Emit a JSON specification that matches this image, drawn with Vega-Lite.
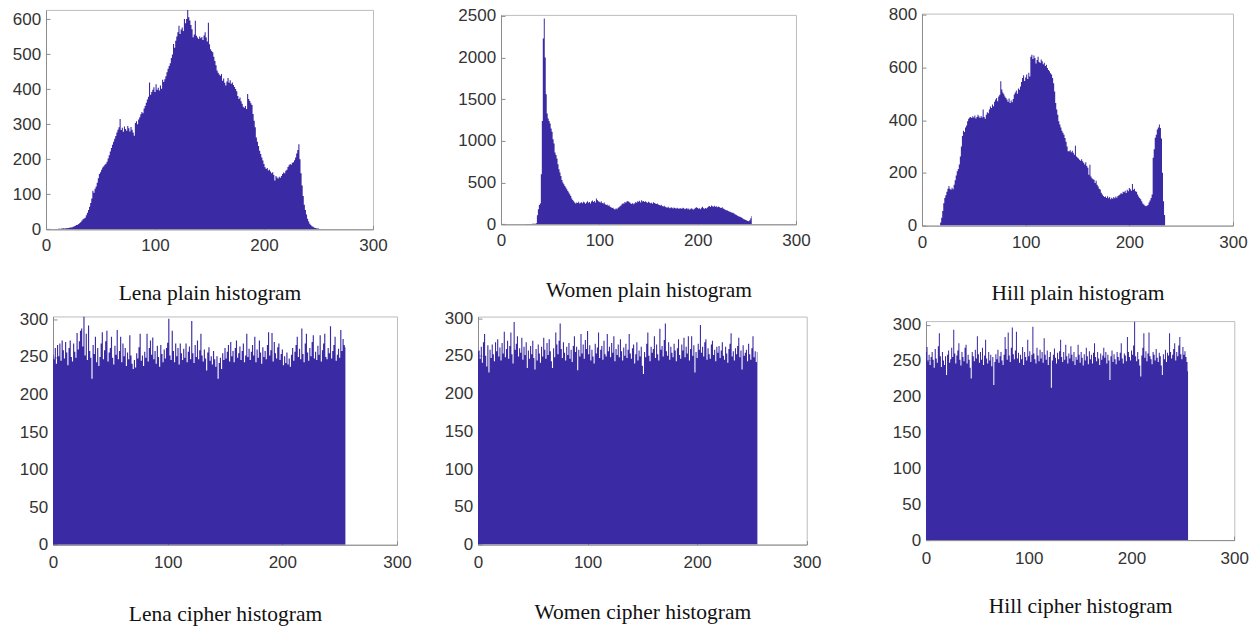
{
"$schema": "https://vega.github.io/schema/vega-lite/v6.json",
"padding": {"left": 6, "top": 4.6, "right": 0, "bottom": 0},
"background": "white",
"config": {
 "view": {"stroke": "#bdbdbd", "strokeWidth": 1},
 "axis": {"labelFont": "Liberation Sans", "labelFontSize": 17, "labelColor": "#333333", "labelFlush": false, "domainColor": "#8c8c8c", "tickColor": "#8c8c8c", "ticks": true, "tickSize": -4, "grid": false, "titleFont": "Liberation Serif", "titleFontSize": 21.5, "titleFontWeight": "normal", "titleColor": "#111111"},
 "axisX": {"labelPadding": 12.5},
 "axisY": {"labelPadding": 9.4, "title": null, "format": "d"}
},
"datasets": {
"lena_p": [{"b":0,"n":0},{"b":1,"n":0},{"b":2,"n":0},{"b":3,"n":0},{"b":4,"n":0},{"b":5,"n":0},{"b":6,"n":0},{"b":7,"n":0},{"b":8,"n":0},{"b":9,"n":1},
{"b":10,"n":1},{"b":11,"n":1},{"b":12,"n":2},{"b":13,"n":1},{"b":14,"n":2},{"b":15,"n":2},{"b":16,"n":3},{"b":17,"n":2},{"b":18,"n":3},{"b":19,"n":3},
{"b":20,"n":4},{"b":21,"n":4},{"b":22,"n":5},{"b":23,"n":5},{"b":24,"n":6},{"b":25,"n":7},{"b":26,"n":9},{"b":27,"n":10},{"b":28,"n":12},{"b":29,"n":13},
{"b":30,"n":15},{"b":31,"n":18},{"b":32,"n":21},{"b":33,"n":25},{"b":34,"n":29},{"b":35,"n":31},{"b":36,"n":33},{"b":37,"n":40},{"b":38,"n":47},{"b":39,"n":55},
{"b":40,"n":64},{"b":41,"n":75},{"b":42,"n":88},{"b":43,"n":110},{"b":44,"n":104},{"b":45,"n":116},{"b":46,"n":122},{"b":47,"n":133},{"b":48,"n":146},{"b":49,"n":158},
{"b":50,"n":163},{"b":51,"n":170},{"b":52,"n":176},{"b":53,"n":180},{"b":54,"n":184},{"b":55,"n":187},{"b":56,"n":193},{"b":57,"n":202},{"b":58,"n":211},{"b":59,"n":222},
{"b":60,"n":232},{"b":61,"n":241},{"b":62,"n":250},{"b":63,"n":258},{"b":64,"n":266},{"b":65,"n":276},{"b":66,"n":284},{"b":67,"n":291},{"b":68,"n":315},{"b":69,"n":283},
{"b":70,"n":290},{"b":71,"n":278},{"b":72,"n":293},{"b":73,"n":286},{"b":74,"n":281},{"b":75,"n":295},{"b":76,"n":288},{"b":77,"n":279},{"b":78,"n":292},{"b":79,"n":284},
{"b":80,"n":276},{"b":81,"n":267},{"b":82,"n":303},{"b":83,"n":308},{"b":84,"n":300},{"b":85,"n":313},{"b":86,"n":320},{"b":87,"n":328},{"b":88,"n":335},{"b":89,"n":331},
{"b":90,"n":345},{"b":91,"n":352},{"b":92,"n":361},{"b":93,"n":370},{"b":94,"n":378},{"b":95,"n":419},{"b":96,"n":384},{"b":97,"n":392},{"b":98,"n":398},{"b":99,"n":405},
{"b":100,"n":392},{"b":101,"n":414},{"b":102,"n":398},{"b":103,"n":404},{"b":104,"n":396},{"b":105,"n":410},{"b":106,"n":401},{"b":107,"n":427},{"b":108,"n":420},{"b":109,"n":428},
{"b":110,"n":437},{"b":111,"n":448},{"b":112,"n":458},{"b":113,"n":466},{"b":114,"n":474},{"b":115,"n":489},{"b":116,"n":499},{"b":117,"n":529},{"b":118,"n":518},{"b":119,"n":538},
{"b":120,"n":550},{"b":121,"n":562},{"b":122,"n":581},{"b":123,"n":557},{"b":124,"n":570},{"b":125,"n":576},{"b":126,"n":566},{"b":127,"n":600},{"b":128,"n":588},{"b":129,"n":600},
{"b":130,"n":626},{"b":131,"n":605},{"b":132,"n":596},{"b":133,"n":583},{"b":134,"n":571},{"b":135,"n":548},{"b":136,"n":556},{"b":137,"n":595},{"b":138,"n":552},{"b":139,"n":547},
{"b":140,"n":543},{"b":141,"n":550},{"b":142,"n":545},{"b":143,"n":549},{"b":144,"n":540},{"b":145,"n":553},{"b":146,"n":562},{"b":147,"n":547},{"b":148,"n":536},{"b":149,"n":589},
{"b":150,"n":528},{"b":151,"n":514},{"b":152,"n":509},{"b":153,"n":505},{"b":154,"n":492},{"b":155,"n":480},{"b":156,"n":468},{"b":157,"n":453},{"b":158,"n":447},{"b":159,"n":442},
{"b":160,"n":438},{"b":161,"n":443},{"b":162,"n":424},{"b":163,"n":430},{"b":164,"n":418},{"b":165,"n":410},{"b":166,"n":422},{"b":167,"n":432},{"b":168,"n":418},{"b":169,"n":425},
{"b":170,"n":415},{"b":171,"n":419},{"b":172,"n":412},{"b":173,"n":406},{"b":174,"n":400},{"b":175,"n":394},{"b":176,"n":380},{"b":177,"n":372},{"b":178,"n":376},{"b":179,"n":365},
{"b":180,"n":358},{"b":181,"n":350},{"b":182,"n":347},{"b":183,"n":352},{"b":184,"n":343},{"b":185,"n":386},{"b":186,"n":372},{"b":187,"n":366},{"b":188,"n":360},{"b":189,"n":355},
{"b":190,"n":329},{"b":191,"n":310},{"b":192,"n":291},{"b":193,"n":262},{"b":194,"n":250},{"b":195,"n":238},{"b":196,"n":224},{"b":197,"n":215},{"b":198,"n":205},{"b":199,"n":196},
{"b":200,"n":186},{"b":201,"n":177},{"b":202,"n":172},{"b":203,"n":175},{"b":204,"n":168},{"b":205,"n":170},{"b":206,"n":165},{"b":207,"n":160},{"b":208,"n":163},{"b":209,"n":155},
{"b":210,"n":139},{"b":211,"n":152},{"b":212,"n":148},{"b":213,"n":145},{"b":214,"n":150},{"b":215,"n":147},{"b":216,"n":152},{"b":217,"n":158},{"b":218,"n":162},{"b":219,"n":160},
{"b":220,"n":167},{"b":221,"n":170},{"b":222,"n":178},{"b":223,"n":183},{"b":224,"n":186},{"b":225,"n":184},{"b":226,"n":190},{"b":227,"n":191},{"b":228,"n":197},{"b":229,"n":205},
{"b":230,"n":216},{"b":231,"n":226},{"b":232,"n":243},{"b":233,"n":200},{"b":234,"n":160},{"b":235,"n":125},{"b":236,"n":95},{"b":237,"n":70},{"b":238,"n":55},{"b":239,"n":42},
{"b":240,"n":30},{"b":241,"n":22},{"b":242,"n":16},{"b":243,"n":12},{"b":244,"n":9},{"b":245,"n":7},{"b":246,"n":5},{"b":247,"n":4},{"b":248,"n":3},{"b":249,"n":2},
{"b":250,"n":2},{"b":251,"n":1},{"b":252,"n":1},{"b":253,"n":0},{"b":254,"n":0},{"b":255,"n":0}],
"women_p": [{"b":0,"n":0},{"b":1,"n":0},{"b":2,"n":0},{"b":3,"n":0},{"b":4,"n":0},{"b":5,"n":0},{"b":6,"n":0},{"b":7,"n":0},{"b":8,"n":0},{"b":9,"n":0},
{"b":10,"n":0},{"b":11,"n":0},{"b":12,"n":0},{"b":13,"n":0},{"b":14,"n":0},{"b":15,"n":0},{"b":16,"n":0},{"b":17,"n":0},{"b":18,"n":0},{"b":19,"n":0},
{"b":20,"n":0},{"b":21,"n":0},{"b":22,"n":0},{"b":23,"n":0},{"b":24,"n":0},{"b":25,"n":0},{"b":26,"n":4},{"b":27,"n":4},{"b":28,"n":5},{"b":29,"n":5},
{"b":30,"n":5},{"b":31,"n":5},{"b":32,"n":6},{"b":33,"n":6},{"b":34,"n":6},{"b":35,"n":8},{"b":36,"n":12},{"b":37,"n":110},{"b":38,"n":180},{"b":39,"n":230},
{"b":40,"n":250},{"b":41,"n":600},{"b":42,"n":1240},{"b":43,"n":2230},{"b":44,"n":2470},{"b":45,"n":2000},{"b":46,"n":1560},{"b":47,"n":1330},{"b":48,"n":1270},{"b":49,"n":1240},
{"b":50,"n":1210},{"b":51,"n":1150},{"b":52,"n":1110},{"b":53,"n":1020},{"b":54,"n":970},{"b":55,"n":860},{"b":56,"n":830},{"b":57,"n":790},{"b":58,"n":720},{"b":59,"n":660},
{"b":60,"n":620},{"b":61,"n":580},{"b":62,"n":530},{"b":63,"n":500},{"b":64,"n":480},{"b":65,"n":460},{"b":66,"n":440},{"b":67,"n":420},{"b":68,"n":400},{"b":69,"n":380},
{"b":70,"n":360},{"b":71,"n":340},{"b":72,"n":310},{"b":73,"n":290},{"b":74,"n":275},{"b":75,"n":260},{"b":76,"n":250},{"b":77,"n":262},{"b":78,"n":255},{"b":79,"n":270},
{"b":80,"n":248},{"b":81,"n":258},{"b":82,"n":265},{"b":83,"n":252},{"b":84,"n":270},{"b":85,"n":260},{"b":86,"n":245},{"b":87,"n":262},{"b":88,"n":275},{"b":89,"n":258},
{"b":90,"n":266},{"b":91,"n":250},{"b":92,"n":272},{"b":93,"n":285},{"b":94,"n":268},{"b":95,"n":278},{"b":96,"n":262},{"b":97,"n":308},{"b":98,"n":290},{"b":99,"n":276},
{"b":100,"n":270},{"b":101,"n":262},{"b":102,"n":275},{"b":103,"n":255},{"b":104,"n":248},{"b":105,"n":260},{"b":106,"n":240},{"b":107,"n":232},{"b":108,"n":236},{"b":109,"n":222},
{"b":110,"n":228},{"b":111,"n":210},{"b":112,"n":205},{"b":113,"n":196},{"b":114,"n":200},{"b":115,"n":185},{"b":116,"n":178},{"b":117,"n":192},{"b":118,"n":182},{"b":119,"n":198},
{"b":120,"n":205},{"b":121,"n":218},{"b":122,"n":226},{"b":123,"n":240},{"b":124,"n":252},{"b":125,"n":246},{"b":126,"n":268},{"b":127,"n":258},{"b":128,"n":272},{"b":129,"n":280},
{"b":130,"n":270},{"b":131,"n":262},{"b":132,"n":250},{"b":133,"n":244},{"b":134,"n":256},{"b":135,"n":240},{"b":136,"n":252},{"b":137,"n":266},{"b":138,"n":258},{"b":139,"n":276},
{"b":140,"n":270},{"b":141,"n":282},{"b":142,"n":262},{"b":143,"n":288},{"b":144,"n":274},{"b":145,"n":280},{"b":146,"n":268},{"b":147,"n":276},{"b":148,"n":264},{"b":149,"n":258},
{"b":150,"n":270},{"b":151,"n":262},{"b":152,"n":252},{"b":153,"n":258},{"b":154,"n":246},{"b":155,"n":264},{"b":156,"n":256},{"b":157,"n":250},{"b":158,"n":242},{"b":159,"n":248},
{"b":160,"n":238},{"b":161,"n":230},{"b":162,"n":226},{"b":163,"n":234},{"b":164,"n":220},{"b":165,"n":214},{"b":166,"n":222},{"b":167,"n":210},{"b":168,"n":204},{"b":169,"n":198},
{"b":170,"n":212},{"b":171,"n":200},{"b":172,"n":194},{"b":173,"n":206},{"b":174,"n":198},{"b":175,"n":190},{"b":176,"n":202},{"b":177,"n":196},{"b":178,"n":188},{"b":179,"n":200},
{"b":180,"n":192},{"b":181,"n":184},{"b":182,"n":196},{"b":183,"n":190},{"b":184,"n":186},{"b":185,"n":198},{"b":186,"n":194},{"b":187,"n":180},{"b":188,"n":188},{"b":189,"n":196},
{"b":190,"n":182},{"b":191,"n":190},{"b":192,"n":176},{"b":193,"n":186},{"b":194,"n":194},{"b":195,"n":182},{"b":196,"n":178},{"b":197,"n":190},{"b":198,"n":198},{"b":199,"n":204},
{"b":200,"n":196},{"b":201,"n":186},{"b":202,"n":192},{"b":203,"n":182},{"b":204,"n":200},{"b":205,"n":210},{"b":206,"n":194},{"b":207,"n":188},{"b":208,"n":196},{"b":209,"n":190},
{"b":210,"n":202},{"b":211,"n":214},{"b":212,"n":220},{"b":213,"n":208},{"b":214,"n":224},{"b":215,"n":216},{"b":216,"n":210},{"b":217,"n":222},{"b":218,"n":212},{"b":219,"n":218},
{"b":220,"n":206},{"b":221,"n":214},{"b":222,"n":208},{"b":223,"n":200},{"b":224,"n":196},{"b":225,"n":204},{"b":226,"n":190},{"b":227,"n":184},{"b":228,"n":176},{"b":229,"n":170},
{"b":230,"n":168},{"b":231,"n":160},{"b":232,"n":155},{"b":233,"n":150},{"b":234,"n":146},{"b":235,"n":140},{"b":236,"n":138},{"b":237,"n":130},{"b":238,"n":122},{"b":239,"n":115},
{"b":240,"n":108},{"b":241,"n":100},{"b":242,"n":94},{"b":243,"n":90},{"b":244,"n":84},{"b":245,"n":78},{"b":246,"n":70},{"b":247,"n":62},{"b":248,"n":58},{"b":249,"n":52},
{"b":250,"n":46},{"b":251,"n":40},{"b":252,"n":38},{"b":253,"n":50},{"b":254,"n":72},{"b":255,"n":100}],
"hill_p": [{"b":0,"n":0},{"b":1,"n":0},{"b":2,"n":0},{"b":3,"n":0},{"b":4,"n":0},{"b":5,"n":0},{"b":6,"n":0},{"b":7,"n":0},{"b":8,"n":0},{"b":9,"n":0},
{"b":10,"n":0},{"b":11,"n":0},{"b":12,"n":0},{"b":13,"n":0},{"b":14,"n":0},{"b":15,"n":0},{"b":16,"n":0},{"b":17,"n":0},{"b":18,"n":12},{"b":19,"n":30},
{"b":20,"n":55},{"b":21,"n":85},{"b":22,"n":105},{"b":23,"n":115},{"b":24,"n":128},{"b":25,"n":140},{"b":26,"n":150},{"b":27,"n":140},{"b":28,"n":136},{"b":29,"n":144},
{"b":30,"n":138},{"b":31,"n":155},{"b":32,"n":172},{"b":33,"n":190},{"b":34,"n":206},{"b":35,"n":215},{"b":36,"n":232},{"b":37,"n":262},{"b":38,"n":300},{"b":39,"n":340},
{"b":40,"n":360},{"b":41,"n":355},{"b":42,"n":372},{"b":43,"n":380},{"b":44,"n":396},{"b":45,"n":405},{"b":46,"n":410},{"b":47,"n":412},{"b":48,"n":408},{"b":49,"n":415},
{"b":50,"n":410},{"b":51,"n":418},{"b":52,"n":406},{"b":53,"n":412},{"b":54,"n":420},{"b":55,"n":414},{"b":56,"n":408},{"b":57,"n":416},{"b":58,"n":410},{"b":59,"n":440},
{"b":60,"n":412},{"b":61,"n":405},{"b":62,"n":420},{"b":63,"n":430},{"b":64,"n":426},{"b":65,"n":440},{"b":66,"n":452},{"b":67,"n":446},{"b":68,"n":459},{"b":69,"n":453},
{"b":70,"n":470},{"b":71,"n":478},{"b":72,"n":484},{"b":73,"n":472},{"b":74,"n":490},{"b":75,"n":496},{"b":76,"n":547},{"b":77,"n":516},{"b":78,"n":505},{"b":79,"n":498},
{"b":80,"n":490},{"b":81,"n":484},{"b":82,"n":478},{"b":83,"n":470},{"b":84,"n":482},{"b":85,"n":465},{"b":86,"n":474},{"b":87,"n":468},{"b":88,"n":480},{"b":89,"n":497},
{"b":90,"n":505},{"b":91,"n":512},{"b":92,"n":500},{"b":93,"n":520},{"b":94,"n":515},{"b":95,"n":528},{"b":96,"n":545},{"b":97,"n":560},{"b":98,"n":570},{"b":99,"n":548},
{"b":100,"n":562},{"b":101,"n":573},{"b":102,"n":556},{"b":103,"n":580},{"b":104,"n":565},{"b":105,"n":640},{"b":106,"n":648},{"b":107,"n":632},{"b":108,"n":645},{"b":109,"n":636},
{"b":110,"n":615},{"b":111,"n":628},{"b":112,"n":640},{"b":113,"n":620},{"b":114,"n":617},{"b":115,"n":630},{"b":116,"n":623},{"b":117,"n":612},{"b":118,"n":618},{"b":119,"n":605},
{"b":120,"n":610},{"b":121,"n":598},{"b":122,"n":590},{"b":123,"n":585},{"b":124,"n":578},{"b":125,"n":573},{"b":126,"n":560},{"b":127,"n":540},{"b":128,"n":509},{"b":129,"n":465},
{"b":130,"n":440},{"b":131,"n":420},{"b":132,"n":396},{"b":133,"n":383},{"b":134,"n":372},{"b":135,"n":360},{"b":136,"n":352},{"b":137,"n":345},{"b":138,"n":332},{"b":139,"n":318},
{"b":140,"n":300},{"b":141,"n":282},{"b":142,"n":282},{"b":143,"n":286},{"b":144,"n":278},{"b":145,"n":284},{"b":146,"n":276},{"b":147,"n":269},{"b":148,"n":303},{"b":149,"n":262},
{"b":150,"n":258},{"b":151,"n":254},{"b":152,"n":250},{"b":153,"n":246},{"b":154,"n":252},{"b":155,"n":244},{"b":156,"n":238},{"b":157,"n":232},{"b":158,"n":240},{"b":159,"n":226},
{"b":160,"n":219},{"b":161,"n":193},{"b":162,"n":231},{"b":163,"n":186},{"b":164,"n":180},{"b":165,"n":176},{"b":166,"n":174},{"b":167,"n":162},{"b":168,"n":170},{"b":169,"n":155},
{"b":170,"n":148},{"b":171,"n":140},{"b":172,"n":137},{"b":173,"n":125},{"b":174,"n":118},{"b":175,"n":112},{"b":176,"n":108},{"b":177,"n":110},{"b":178,"n":105},{"b":179,"n":111},
{"b":180,"n":104},{"b":181,"n":108},{"b":182,"n":100},{"b":183,"n":106},{"b":184,"n":102},{"b":185,"n":108},{"b":186,"n":104},{"b":187,"n":110},{"b":188,"n":106},{"b":189,"n":112},
{"b":190,"n":115},{"b":191,"n":118},{"b":192,"n":124},{"b":193,"n":120},{"b":194,"n":128},{"b":195,"n":126},{"b":196,"n":132},{"b":197,"n":124},{"b":198,"n":136},{"b":199,"n":130},
{"b":200,"n":143},{"b":201,"n":138},{"b":202,"n":132},{"b":203,"n":158},{"b":204,"n":136},{"b":205,"n":140},{"b":206,"n":130},{"b":207,"n":128},{"b":208,"n":118},{"b":209,"n":110},
{"b":210,"n":105},{"b":211,"n":100},{"b":212,"n":92},{"b":213,"n":84},{"b":214,"n":80},{"b":215,"n":76},{"b":216,"n":73},{"b":217,"n":75},{"b":218,"n":78},{"b":219,"n":88},
{"b":220,"n":95},{"b":221,"n":105},{"b":222,"n":118},{"b":223,"n":257},{"b":224,"n":290},{"b":225,"n":333},{"b":226,"n":345},{"b":227,"n":364},{"b":228,"n":372},{"b":229,"n":383},
{"b":230,"n":370},{"b":231,"n":330},{"b":232,"n":200},{"b":233,"n":92},{"b":234,"n":40},{"b":235,"n":0},{"b":236,"n":0},{"b":237,"n":0},{"b":238,"n":0},{"b":239,"n":0},
{"b":240,"n":0},{"b":241,"n":0},{"b":242,"n":0},{"b":243,"n":0},{"b":244,"n":0},{"b":245,"n":0},{"b":246,"n":0},{"b":247,"n":0},{"b":248,"n":0},{"b":249,"n":0},
{"b":250,"n":0},{"b":251,"n":0},{"b":252,"n":0},{"b":253,"n":0},{"b":254,"n":0},{"b":255,"n":0}],
"lena_c": [{"b":0,"n":253},{"b":1,"n":247},{"b":2,"n":262},{"b":3,"n":241},{"b":4,"n":266},{"b":5,"n":251},{"b":6,"n":268},{"b":7,"n":245},{"b":8,"n":272},{"b":9,"n":259},
{"b":10,"n":248},{"b":11,"n":270},{"b":12,"n":256},{"b":13,"n":239},{"b":14,"n":262},{"b":15,"n":272},{"b":16,"n":250},{"b":17,"n":244},{"b":18,"n":268},{"b":19,"n":257},
{"b":20,"n":249},{"b":21,"n":282},{"b":22,"n":260},{"b":23,"n":271},{"b":24,"n":285},{"b":25,"n":288},{"b":26,"n":264},{"b":27,"n":304},{"b":28,"n":252},{"b":29,"n":281},
{"b":30,"n":246},{"b":31,"n":292},{"b":32,"n":258},{"b":33,"n":249},{"b":34,"n":221},{"b":35,"n":266},{"b":36,"n":254},{"b":37,"n":277},{"b":38,"n":243},{"b":39,"n":262},
{"b":40,"n":238},{"b":41,"n":250},{"b":42,"n":268},{"b":43,"n":283},{"b":44,"n":247},{"b":45,"n":259},{"b":46,"n":271},{"b":47,"n":285},{"b":48,"n":244},{"b":49,"n":256},
{"b":50,"n":262},{"b":51,"n":277},{"b":52,"n":249},{"b":53,"n":240},{"b":54,"n":265},{"b":55,"n":253},{"b":56,"n":286},{"b":57,"n":247},{"b":58,"n":258},{"b":59,"n":277},
{"b":60,"n":243},{"b":61,"n":268},{"b":62,"n":251},{"b":63,"n":262},{"b":64,"n":238},{"b":65,"n":256},{"b":66,"n":247},{"b":67,"n":279},{"b":68,"n":252},{"b":69,"n":241},
{"b":70,"n":234},{"b":71,"n":246},{"b":72,"n":236},{"b":73,"n":255},{"b":74,"n":248},{"b":75,"n":263},{"b":76,"n":281},{"b":77,"n":245},{"b":78,"n":252},{"b":79,"n":238},
{"b":80,"n":257},{"b":81,"n":249},{"b":82,"n":281},{"b":83,"n":244},{"b":84,"n":262},{"b":85,"n":272},{"b":86,"n":253},{"b":87,"n":276},{"b":88,"n":247},{"b":89,"n":258},
{"b":90,"n":241},{"b":91,"n":265},{"b":92,"n":250},{"b":93,"n":237},{"b":94,"n":266},{"b":95,"n":254},{"b":96,"n":243},{"b":97,"n":260},{"b":98,"n":248},{"b":99,"n":262},
{"b":100,"n":269},{"b":101,"n":301},{"b":102,"n":252},{"b":103,"n":246},{"b":104,"n":285},{"b":105,"n":258},{"b":106,"n":243},{"b":107,"n":268},{"b":108,"n":251},{"b":109,"n":262},
{"b":110,"n":240},{"b":111,"n":268},{"b":112,"n":255},{"b":113,"n":246},{"b":114,"n":261},{"b":115,"n":249},{"b":116,"n":268},{"b":117,"n":243},{"b":118,"n":257},{"b":119,"n":264},
{"b":120,"n":247},{"b":121,"n":298},{"b":122,"n":255},{"b":123,"n":242},{"b":124,"n":266},{"b":125,"n":250},{"b":126,"n":272},{"b":127,"n":247},{"b":128,"n":259},{"b":129,"n":281},
{"b":130,"n":252},{"b":131,"n":244},{"b":132,"n":260},{"b":133,"n":248},{"b":134,"n":232},{"b":135,"n":256},{"b":136,"n":263},{"b":137,"n":245},{"b":138,"n":251},{"b":139,"n":240},
{"b":140,"n":258},{"b":141,"n":247},{"b":142,"n":237},{"b":143,"n":251},{"b":144,"n":221},{"b":145,"n":242},{"b":146,"n":249},{"b":147,"n":234},{"b":148,"n":255},{"b":149,"n":246},
{"b":150,"n":262},{"b":151,"n":248},{"b":152,"n":257},{"b":153,"n":266},{"b":154,"n":244},{"b":155,"n":270},{"b":156,"n":251},{"b":157,"n":258},{"b":158,"n":243},{"b":159,"n":262},
{"b":160,"n":272},{"b":161,"n":249},{"b":162,"n":255},{"b":163,"n":264},{"b":164,"n":246},{"b":165,"n":258},{"b":166,"n":268},{"b":167,"n":243},{"b":168,"n":252},{"b":169,"n":281},
{"b":170,"n":250},{"b":171,"n":261},{"b":172,"n":246},{"b":173,"n":257},{"b":174,"n":266},{"b":175,"n":252},{"b":176,"n":277},{"b":177,"n":243},{"b":178,"n":260},{"b":179,"n":249},
{"b":180,"n":272},{"b":181,"n":256},{"b":182,"n":241},{"b":183,"n":263},{"b":184,"n":250},{"b":185,"n":258},{"b":186,"n":247},{"b":187,"n":266},{"b":188,"n":283},{"b":189,"n":252},
{"b":190,"n":259},{"b":191,"n":282},{"b":192,"n":244},{"b":193,"n":270},{"b":194,"n":255},{"b":195,"n":248},{"b":196,"n":263},{"b":197,"n":268},{"b":198,"n":246},{"b":199,"n":254},
{"b":200,"n":260},{"b":201,"n":239},{"b":202,"n":251},{"b":203,"n":242},{"b":204,"n":256},{"b":205,"n":240},{"b":206,"n":248},{"b":207,"n":237},{"b":208,"n":253},{"b":209,"n":262},
{"b":210,"n":245},{"b":211,"n":257},{"b":212,"n":266},{"b":213,"n":277},{"b":214,"n":250},{"b":215,"n":261},{"b":216,"n":247},{"b":217,"n":288},{"b":218,"n":254},{"b":219,"n":243},
{"b":220,"n":268},{"b":221,"n":281},{"b":222,"n":256},{"b":223,"n":245},{"b":224,"n":262},{"b":225,"n":251},{"b":226,"n":270},{"b":227,"n":279},{"b":228,"n":248},{"b":229,"n":257},
{"b":230,"n":246},{"b":231,"n":265},{"b":232,"n":253},{"b":233,"n":279},{"b":234,"n":244},{"b":235,"n":259},{"b":236,"n":268},{"b":237,"n":281},{"b":238,"n":250},{"b":239,"n":247},
{"b":240,"n":262},{"b":241,"n":255},{"b":242,"n":291},{"b":243,"n":248},{"b":244,"n":258},{"b":245,"n":266},{"b":246,"n":277},{"b":247,"n":245},{"b":248,"n":253},{"b":249,"n":261},
{"b":250,"n":249},{"b":251,"n":286},{"b":252,"n":258},{"b":253,"n":274},{"b":254,"n":266},{"b":255,"n":263}],
"women_c": [{"b":0,"n":256},{"b":1,"n":257},{"b":2,"n":246},{"b":3,"n":262},{"b":4,"n":241},{"b":5,"n":268},{"b":6,"n":279},{"b":7,"n":250},{"b":8,"n":236},{"b":9,"n":264},
{"b":10,"n":228},{"b":11,"n":258},{"b":12,"n":247},{"b":13,"n":265},{"b":14,"n":252},{"b":15,"n":243},{"b":16,"n":268},{"b":17,"n":256},{"b":18,"n":272},{"b":19,"n":249},
{"b":20,"n":261},{"b":21,"n":244},{"b":22,"n":267},{"b":23,"n":253},{"b":24,"n":282},{"b":25,"n":248},{"b":26,"n":259},{"b":27,"n":270},{"b":28,"n":246},{"b":29,"n":263},
{"b":30,"n":281},{"b":31,"n":252},{"b":32,"n":240},{"b":33,"n":295},{"b":34,"n":258},{"b":35,"n":266},{"b":36,"n":276},{"b":37,"n":249},{"b":38,"n":260},{"b":39,"n":254},
{"b":40,"n":274},{"b":41,"n":245},{"b":42,"n":262},{"b":43,"n":251},{"b":44,"n":268},{"b":45,"n":234},{"b":46,"n":257},{"b":47,"n":246},{"b":48,"n":263},{"b":49,"n":252},
{"b":50,"n":270},{"b":51,"n":247},{"b":52,"n":232},{"b":53,"n":259},{"b":54,"n":244},{"b":55,"n":265},{"b":56,"n":253},{"b":57,"n":241},{"b":58,"n":262},{"b":59,"n":249},
{"b":60,"n":274},{"b":61,"n":258},{"b":62,"n":246},{"b":63,"n":267},{"b":64,"n":251},{"b":65,"n":272},{"b":66,"n":256},{"b":67,"n":243},{"b":68,"n":234},{"b":69,"n":260},
{"b":70,"n":248},{"b":71,"n":281},{"b":72,"n":265},{"b":73,"n":252},{"b":74,"n":270},{"b":75,"n":293},{"b":76,"n":259},{"b":77,"n":247},{"b":78,"n":268},{"b":79,"n":254},
{"b":80,"n":244},{"b":81,"n":262},{"b":82,"n":251},{"b":83,"n":267},{"b":84,"n":246},{"b":85,"n":258},{"b":86,"n":242},{"b":87,"n":263},{"b":88,"n":276},{"b":89,"n":255},
{"b":90,"n":262},{"b":91,"n":231},{"b":92,"n":258},{"b":93,"n":249},{"b":94,"n":279},{"b":95,"n":253},{"b":96,"n":265},{"b":97,"n":246},{"b":98,"n":271},{"b":99,"n":259},
{"b":100,"n":283},{"b":101,"n":252},{"b":102,"n":264},{"b":103,"n":244},{"b":104,"n":258},{"b":105,"n":249},{"b":106,"n":240},{"b":107,"n":266},{"b":108,"n":253},{"b":109,"n":261},
{"b":110,"n":281},{"b":111,"n":247},{"b":112,"n":258},{"b":113,"n":263},{"b":114,"n":245},{"b":115,"n":270},{"b":116,"n":252},{"b":117,"n":249},{"b":118,"n":279},{"b":119,"n":256},
{"b":120,"n":262},{"b":121,"n":248},{"b":122,"n":267},{"b":123,"n":254},{"b":124,"n":276},{"b":125,"n":243},{"b":126,"n":259},{"b":127,"n":251},{"b":128,"n":265},{"b":129,"n":248},
{"b":130,"n":272},{"b":131,"n":256},{"b":132,"n":244},{"b":133,"n":261},{"b":134,"n":250},{"b":135,"n":266},{"b":136,"n":247},{"b":137,"n":258},{"b":138,"n":279},{"b":139,"n":253},
{"b":140,"n":246},{"b":141,"n":260},{"b":142,"n":265},{"b":143,"n":240},{"b":144,"n":252},{"b":145,"n":268},{"b":146,"n":244},{"b":147,"n":257},{"b":148,"n":249},{"b":149,"n":262},
{"b":150,"n":237},{"b":151,"n":226},{"b":152,"n":255},{"b":153,"n":248},{"b":154,"n":266},{"b":155,"n":281},{"b":156,"n":250},{"b":157,"n":243},{"b":158,"n":262},{"b":159,"n":254},
{"b":160,"n":259},{"b":161,"n":276},{"b":162,"n":247},{"b":163,"n":265},{"b":164,"n":252},{"b":165,"n":244},{"b":166,"n":286},{"b":167,"n":258},{"b":168,"n":263},{"b":169,"n":249},
{"b":170,"n":271},{"b":171,"n":293},{"b":172,"n":256},{"b":173,"n":250},{"b":174,"n":268},{"b":175,"n":245},{"b":176,"n":262},{"b":177,"n":254},{"b":178,"n":248},{"b":179,"n":266},
{"b":180,"n":257},{"b":181,"n":243},{"b":182,"n":260},{"b":183,"n":272},{"b":184,"n":251},{"b":185,"n":246},{"b":186,"n":265},{"b":187,"n":257},{"b":188,"n":274},{"b":189,"n":248},
{"b":190,"n":262},{"b":191,"n":253},{"b":192,"n":276},{"b":193,"n":244},{"b":194,"n":259},{"b":195,"n":276},{"b":196,"n":250},{"b":197,"n":264},{"b":198,"n":228},{"b":199,"n":255},
{"b":200,"n":247},{"b":201,"n":266},{"b":202,"n":258},{"b":203,"n":291},{"b":204,"n":254},{"b":205,"n":262},{"b":206,"n":249},{"b":207,"n":268},{"b":208,"n":272},{"b":209,"n":245},
{"b":210,"n":260},{"b":211,"n":252},{"b":212,"n":246},{"b":213,"n":265},{"b":214,"n":270},{"b":215,"n":251},{"b":216,"n":258},{"b":217,"n":243},{"b":218,"n":262},{"b":219,"n":254},
{"b":220,"n":263},{"b":221,"n":247},{"b":222,"n":257},{"b":223,"n":268},{"b":224,"n":250},{"b":225,"n":245},{"b":226,"n":262},{"b":227,"n":253},{"b":228,"n":241},{"b":229,"n":259},
{"b":230,"n":266},{"b":231,"n":280},{"b":232,"n":249},{"b":233,"n":256},{"b":234,"n":244},{"b":235,"n":260},{"b":236,"n":252},{"b":237,"n":263},{"b":238,"n":274},{"b":239,"n":248},
{"b":240,"n":257},{"b":241,"n":232},{"b":242,"n":264},{"b":243,"n":250},{"b":244,"n":254},{"b":245,"n":258},{"b":246,"n":243},{"b":247,"n":266},{"b":248,"n":252},{"b":249,"n":245},
{"b":250,"n":260},{"b":251,"n":276},{"b":252,"n":248},{"b":253,"n":256},{"b":254,"n":242},{"b":255,"n":255}],
"hill_c": [{"b":0,"n":262},{"b":1,"n":269},{"b":2,"n":249},{"b":3,"n":258},{"b":4,"n":244},{"b":5,"n":255},{"b":6,"n":262},{"b":7,"n":251},{"b":8,"n":240},{"b":9,"n":266},
{"b":10,"n":253},{"b":11,"n":247},{"b":12,"n":270},{"b":13,"n":288},{"b":14,"n":256},{"b":15,"n":241},{"b":16,"n":262},{"b":17,"n":250},{"b":18,"n":244},{"b":19,"n":256},
{"b":20,"n":230},{"b":21,"n":258},{"b":22,"n":264},{"b":23,"n":247},{"b":24,"n":252},{"b":25,"n":268},{"b":26,"n":255},{"b":27,"n":293},{"b":28,"n":260},{"b":29,"n":246},
{"b":30,"n":257},{"b":31,"n":264},{"b":32,"n":274},{"b":33,"n":251},{"b":34,"n":243},{"b":35,"n":262},{"b":36,"n":255},{"b":37,"n":249},{"b":38,"n":268},{"b":39,"n":272},
{"b":40,"n":246},{"b":41,"n":258},{"b":42,"n":251},{"b":43,"n":240},{"b":44,"n":225},{"b":45,"n":262},{"b":46,"n":256},{"b":47,"n":249},{"b":48,"n":265},{"b":49,"n":253},
{"b":50,"n":284},{"b":51,"n":259},{"b":52,"n":247},{"b":53,"n":262},{"b":54,"n":251},{"b":55,"n":268},{"b":56,"n":244},{"b":57,"n":257},{"b":58,"n":279},{"b":59,"n":253},
{"b":60,"n":246},{"b":61,"n":262},{"b":62,"n":250},{"b":63,"n":258},{"b":64,"n":242},{"b":65,"n":255},{"b":66,"n":216},{"b":67,"n":248},{"b":68,"n":259},{"b":69,"n":252},
{"b":70,"n":265},{"b":71,"n":247},{"b":72,"n":256},{"b":73,"n":262},{"b":74,"n":250},{"b":75,"n":244},{"b":76,"n":258},{"b":77,"n":283},{"b":78,"n":266},{"b":79,"n":251},
{"b":80,"n":289},{"b":81,"n":257},{"b":82,"n":248},{"b":83,"n":268},{"b":84,"n":296},{"b":85,"n":259},{"b":86,"n":252},{"b":87,"n":264},{"b":88,"n":290},{"b":89,"n":253},
{"b":90,"n":261},{"b":91,"n":247},{"b":92,"n":258},{"b":93,"n":252},{"b":94,"n":269},{"b":95,"n":244},{"b":96,"n":262},{"b":97,"n":255},{"b":98,"n":250},{"b":99,"n":279},
{"b":100,"n":256},{"b":101,"n":263},{"b":102,"n":248},{"b":103,"n":258},{"b":104,"n":297},{"b":105,"n":260},{"b":106,"n":252},{"b":107,"n":246},{"b":108,"n":268},{"b":109,"n":257},
{"b":110,"n":249},{"b":111,"n":265},{"b":112,"n":253},{"b":113,"n":262},{"b":114,"n":247},{"b":115,"n":281},{"b":116,"n":258},{"b":117,"n":251},{"b":118,"n":264},{"b":119,"n":244},
{"b":120,"n":255},{"b":121,"n":262},{"b":122,"n":212},{"b":123,"n":250},{"b":124,"n":258},{"b":125,"n":267},{"b":126,"n":254},{"b":127,"n":246},{"b":128,"n":261},{"b":129,"n":252},
{"b":130,"n":263},{"b":131,"n":279},{"b":132,"n":255},{"b":133,"n":248},{"b":134,"n":262},{"b":135,"n":251},{"b":136,"n":272},{"b":137,"n":256},{"b":138,"n":246},{"b":139,"n":260},
{"b":140,"n":253},{"b":141,"n":270},{"b":142,"n":258},{"b":143,"n":249},{"b":144,"n":262},{"b":145,"n":244},{"b":146,"n":255},{"b":147,"n":251},{"b":148,"n":272},{"b":149,"n":258},
{"b":150,"n":247},{"b":151,"n":262},{"b":152,"n":254},{"b":153,"n":243},{"b":154,"n":259},{"b":155,"n":250},{"b":156,"n":268},{"b":157,"n":256},{"b":158,"n":245},{"b":159,"n":263},
{"b":160,"n":252},{"b":161,"n":258},{"b":162,"n":246},{"b":163,"n":261},{"b":164,"n":274},{"b":165,"n":255},{"b":166,"n":249},{"b":167,"n":262},{"b":168,"n":253},{"b":169,"n":244},
{"b":170,"n":260},{"b":171,"n":251},{"b":172,"n":257},{"b":173,"n":268},{"b":174,"n":254},{"b":175,"n":262},{"b":176,"n":246},{"b":177,"n":258},{"b":178,"n":250},{"b":179,"n":223},
{"b":180,"n":256},{"b":181,"n":264},{"b":182,"n":248},{"b":183,"n":259},{"b":184,"n":252},{"b":185,"n":245},{"b":186,"n":262},{"b":187,"n":255},{"b":188,"n":250},{"b":189,"n":261},
{"b":190,"n":274},{"b":191,"n":253},{"b":192,"n":246},{"b":193,"n":260},{"b":194,"n":257},{"b":195,"n":249},{"b":196,"n":283},{"b":197,"n":262},{"b":198,"n":255},{"b":199,"n":250},
{"b":200,"n":264},{"b":201,"n":258},{"b":202,"n":271},{"b":203,"n":304},{"b":204,"n":256},{"b":205,"n":249},{"b":206,"n":262},{"b":207,"n":252},{"b":208,"n":243},{"b":209,"n":228},
{"b":210,"n":257},{"b":211,"n":268},{"b":212,"n":288},{"b":213,"n":254},{"b":214,"n":263},{"b":215,"n":249},{"b":216,"n":260},{"b":217,"n":289},{"b":218,"n":256},{"b":219,"n":252},
{"b":220,"n":245},{"b":221,"n":262},{"b":222,"n":258},{"b":223,"n":250},{"b":224,"n":266},{"b":225,"n":254},{"b":226,"n":248},{"b":227,"n":261},{"b":228,"n":256},{"b":229,"n":243},
{"b":230,"n":230},{"b":231,"n":259},{"b":232,"n":252},{"b":233,"n":265},{"b":234,"n":248},{"b":235,"n":261},{"b":236,"n":257},{"b":237,"n":288},{"b":238,"n":262},{"b":239,"n":253},
{"b":240,"n":258},{"b":241,"n":266},{"b":242,"n":274},{"b":243,"n":250},{"b":244,"n":262},{"b":245,"n":256},{"b":246,"n":271},{"b":247,"n":283},{"b":248,"n":259},{"b":249,"n":252},
{"b":250,"n":269},{"b":251,"n":258},{"b":252,"n":263},{"b":253,"n":255},{"b":254,"n":248},{"b":255,"n":235}]
},
"vconcat": [
 {"hconcat": [
  {"width": 40, "height": 1, "view": {"stroke": null}, "data": {"values": []}, "mark": "point", "encoding": {}},
  {"width": 327, "height": 219.4, "data": {"name": "lena_p"},
   "mark": {"type": "area", "interpolate": "step", "color": "#3a2aa3", "clip": true},
   "encoding": {
    "x": {"field": "b", "type": "quantitative", "scale": {"domain": [0, 300], "nice": false, "zero": false}, "axis": {"values": [0, 100, 200, 300], "title": "Lena plain histogram", "titlePadding": 28.9}},
    "y": {"field": "n", "type": "quantitative", "scale": {"domain": [0, 626], "nice": false}, "axis": {"values": [0, 100, 200, 300, 400, 500, 600], "title": null}}}},
  {"width": 127.7, "height": 1, "view": {"stroke": null}, "data": {"values": []}, "mark": "point", "encoding": {}},
  {"width": 295, "height": 209.4, "data": {"name": "women_p"},
   "mark": {"type": "area", "interpolate": "step", "color": "#3a2aa3", "clip": true},
   "encoding": {
    "x": {"field": "b", "type": "quantitative", "scale": {"domain": [0, 300], "nice": false, "zero": false}, "axis": {"values": [0, 100, 200, 300], "title": "Women plain histogram", "titlePadding": 30.9}},
    "y": {"field": "n", "type": "quantitative", "scale": {"domain": [0, 2512], "nice": false}, "axis": {"values": [0, 500, 1000, 1500, 2000, 2500], "title": null}}}},
  {"width": 125.6, "height": 1, "view": {"stroke": null}, "data": {"values": []}, "mark": "point", "encoding": {}},
  {"width": 311, "height": 212, "data": {"name": "hill_p"},
   "mark": {"type": "area", "interpolate": "step", "color": "#3a2aa3", "clip": true},
   "encoding": {
    "x": {"field": "b", "type": "quantitative", "scale": {"domain": [0, 300], "nice": false, "zero": false}, "axis": {"values": [0, 100, 200, 300], "title": "Hill plain histogram", "titlePadding": 32.6}},
    "y": {"field": "n", "type": "quantitative", "scale": {"domain": [0, 804], "nice": false}, "axis": {"values": [0, 200, 400, 600, 800], "title": null}}}}
 ], "bounds": "flush", "center": true, "spacing": 0},
 {"hconcat": [
  {"width": 46.7, "height": 1, "view": {"stroke": null}, "data": {"values": []}, "mark": "point", "encoding": {}},
  {"width": 344, "height": 228.3, "data": {"name": "lena_c"},
   "mark": {"type": "area", "interpolate": "step", "color": "#3a2aa3", "clip": true},
   "encoding": {
    "x": {"field": "b", "type": "quantitative", "scale": {"domain": [0, 300], "nice": false, "zero": false}, "axis": {"values": [0, 100, 200, 300], "title": "Lena cipher histogram", "titlePadding": 32.8, "labelPadding": 14.2}},
    "y": {"field": "n", "type": "quantitative", "scale": {"domain": [0, 304], "nice": false}, "axis": {"values": [0, 50, 100, 150, 200, 250, 300], "title": null}}}},
  {"width": 80.6, "height": 1, "view": {"stroke": null}, "data": {"values": []}, "mark": "point", "encoding": {}},
  {"width": 328.7, "height": 228, "data": {"name": "women_c"},
   "mark": {"type": "area", "interpolate": "step", "color": "#3a2aa3", "clip": true},
   "encoding": {
    "x": {"field": "b", "type": "quantitative", "scale": {"domain": [0, 300], "nice": false, "zero": false}, "axis": {"values": [0, 100, 200, 300], "title": "Women cipher histogram", "titlePadding": 30.9, "labelPadding": 14.2}},
    "y": {"field": "n", "type": "quantitative", "scale": {"domain": [0, 302], "nice": false}, "axis": {"values": [0, 50, 100, 150, 200, 250, 300], "title": null}}}},
  {"width": 119, "height": 1, "view": {"stroke": null}, "data": {"values": []}, "mark": "point", "encoding": {}},
  {"width": 308.3, "height": 219, "data": {"name": "hill_c"},
   "mark": {"type": "area", "interpolate": "step", "color": "#3a2aa3", "clip": true},
   "encoding": {
    "x": {"field": "b", "type": "quantitative", "scale": {"domain": [0, 300], "nice": false, "zero": false}, "axis": {"values": [0, 100, 200, 300], "title": "Hill cipher histogram", "titlePadding": 29.4, "labelPadding": 14.2}},
    "y": {"field": "n", "type": "quantitative", "scale": {"domain": [0, 305], "nice": false}, "axis": {"values": [0, 50, 100, 150, 200, 250, 300], "title": null}}}}
 ], "bounds": "flush", "center": true, "spacing": 0}
],
"spacing": 2.5
}
